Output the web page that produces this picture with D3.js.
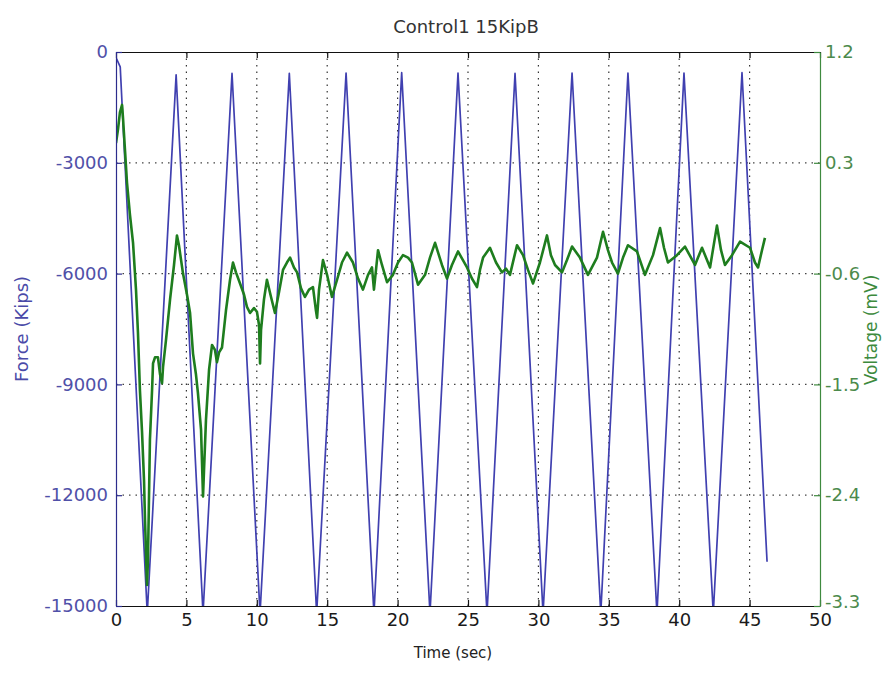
<!DOCTYPE html>
<html>
<head>
<meta charset="utf-8">
<script src="https://cdn.jsdelivr.net/npm/d3@7"></script>
<style>
  html, body { margin: 0; padding: 0; background: #ffffff; }
  svg { display: block; }
  text { font-family: "DejaVu Sans", "Liberation Sans", sans-serif; }
</style>
</head>
<body>
<svg id="chart" width="883" height="677"></svg>
<script>
// ---------------- data ----------------
const chartTitle = "Control1 15KipB";
const xTicks = [0, 5, 10, 15, 20, 25, 30, 35, 40, 45, 50];
const forceTicks = [0, -3000, -6000, -9000, -12000, -15000];
const voltTicks = [1.2, 0.3, -0.6, -1.5, -2.4, -3.3];

// Force (Kips) — turning points of the loading cycles
const forceTime = [0, 0.3, 2.22, 4.27, 6.18, 8.24, 10.23, 12.31, 14.25, 16.34, 18.32, 20.29, 22.3,
  24.29, 26.35, 28.34, 30.33, 32.39, 34.43, 36.36, 38.42, 40.34, 42.42, 44.46, 46.24];
const forceValues = [-150, -400, -15200, -620, -15200, -580, -15200, -580, -15200, -570, -15200, -560, -15200,
  -570, -15200, -580, -15200, -570, -15200, -570, -15200, -570, -15200, -560, -13800];

// Voltage (mV)
const voltTime = [0, 0.14, 0.28, 0.43, 0.5, 0.64, 0.78, 0.99, 1.21, 1.42, 1.56, 1.70, 1.85, 1.99, 2.06, 2.20,
  2.27, 2.41, 2.56, 2.63, 2.77, 2.98, 3.13, 3.27, 3.34, 3.55, 3.84, 4.12, 4.33, 4.47, 4.76, 5.04, 5.26, 5.47,
  5.68, 5.82, 6.04, 6.18, 6.25, 6.39, 6.61, 6.82, 7.03, 7.17, 7.32, 7.53, 7.81, 8.10, 8.31, 8.52, 8.81, 9.09,
  9.30, 9.52, 9.80, 10.01, 10.16, 10.23, 10.30, 10.51, 10.72, 11.01, 11.29, 11.58, 11.86, 12.14, 12.36, 12.64,
  12.86, 13.14, 13.42, 13.71, 13.99, 14.20, 14.28, 14.42, 14.70, 14.99, 15.34, 15.70, 16.05, 16.41, 16.83,
  17.19, 17.54, 17.90, 18.18, 18.32, 18.61, 18.89, 19.25, 19.67, 20.03, 20.38, 20.74, 21.02, 21.45, 21.95,
  22.30, 22.66, 23.15, 23.51, 23.86, 24.29, 24.64, 24.93, 25.28, 25.64, 25.85, 26.07, 26.56, 26.99, 27.41,
  27.70, 27.98, 28.27, 28.48, 28.91, 29.26, 29.62, 30.11, 30.61, 30.89, 31.18, 31.68, 32.03, 32.39, 32.95,
  33.52, 34.16, 34.59, 34.94, 35.23, 35.65, 36.01, 36.36, 37.00, 37.57, 38.14, 38.64, 38.92, 39.20, 39.84,
  40.41, 41.12, 41.62, 42.19, 42.68, 42.97, 43.25, 43.75, 44.32, 45.03, 45.38, 45.60, 45.88, 46.09];
const voltValues = [0.46, 0.57, 0.71, 0.77, 0.66, 0.40, 0.14, -0.12, -0.35, -0.73, -1.08, -1.55, -1.89, -2.28,
  -2.60, -3.13, -2.93, -1.95, -1.55, -1.33, -1.28, -1.28, -1.42, -1.49, -1.36, -1.14, -0.81, -0.53, -0.29,
  -0.37, -0.60, -0.77, -0.92, -1.25, -1.42, -1.57, -1.87, -2.41, -2.20, -1.79, -1.38, -1.18, -1.22, -1.32,
  -1.24, -1.20, -0.90, -0.65, -0.51, -0.59, -0.68, -0.77, -0.87, -0.92, -0.88, -0.91, -1.02, -1.33, -1.06,
  -0.81, -0.65, -0.79, -0.92, -0.75, -0.57, -0.51, -0.47, -0.55, -0.59, -0.72, -0.79, -0.73, -0.71, -0.90,
  -0.96, -0.73, -0.49, -0.61, -0.79, -0.65, -0.51, -0.43, -0.51, -0.64, -0.73, -0.61, -0.55, -0.73, -0.41,
  -0.53, -0.67, -0.61, -0.51, -0.45, -0.47, -0.51, -0.69, -0.61, -0.47, -0.35, -0.53, -0.64, -0.53, -0.42,
  -0.49, -0.55, -0.64, -0.71, -0.57, -0.47, -0.39, -0.51, -0.59, -0.56, -0.61, -0.47, -0.37, -0.45, -0.57,
  -0.68, -0.51, -0.29, -0.45, -0.53, -0.59, -0.49, -0.38, -0.47, -0.61, -0.47, -0.26, -0.41, -0.51, -0.60,
  -0.47, -0.37, -0.42, -0.61, -0.45, -0.23, -0.39, -0.51, -0.45, -0.38, -0.53, -0.39, -0.55, -0.21, -0.41,
  -0.53, -0.45, -0.34, -0.39, -0.51, -0.55, -0.41, -0.31];

// ---------------- layout ----------------
const svg = d3.select("#chart");
const L = 116, R = 820, T = 52, B = 606;

const x = d3.scaleLinear().domain([0, 50]).range([L, R]);
const yF = d3.scaleLinear().domain([-15000, 0]).range([B, T]);
const yV = d3.scaleLinear().domain([-3.3, 1.2]).range([B, T]);

const blue = "#4040b0";
const green = "#1e7d1e";

svg.append("defs").append("clipPath").attr("id", "plotClip")
  .append("rect").attr("x", L).attr("y", T).attr("width", R - L).attr("height", B - T);

// grid
const grid = svg.append("g").attr("class", "grid");
grid.selectAll("line.v").data(xTicks.filter(d => d > 0 && d < 50)).enter().append("line")
  .attr("x1", d => x(d)).attr("x2", d => x(d)).attr("y1", T).attr("y2", B)
  .attr("stroke", "#333").attr("stroke-width", 1.2).attr("stroke-dasharray", "1.5,5");
grid.selectAll("line.h").data(forceTicks.filter(d => d < 0 && d > -15000)).enter().append("line")
  .attr("x1", L).attr("x2", R).attr("y1", d => yF(d)).attr("y2", d => yF(d))
  .attr("stroke", "#444").attr("stroke-width", 1.2).attr("stroke-dasharray", "1.5,5");

// lines
const plot = svg.append("g").attr("clip-path", "url(#plotClip)");
const forceData = forceTime.map((t, i) => [t, forceValues[i]]);
const voltData = voltTime.map((t, i) => [t, voltValues[i]]);

plot.append("path").datum(forceData)
  .attr("fill", "none").attr("stroke", blue).attr("stroke-width", 1.7)
  .attr("stroke-linejoin", "round")
  .attr("d", d3.line().x(d => x(d[0])).y(d => yF(d[1])));

plot.append("path").datum(voltData)
  .attr("fill", "none").attr("stroke", green).attr("stroke-width", 2.6)
  .attr("stroke-linejoin", "round")
  .attr("d", d3.line().x(d => x(d[0])).y(d => yV(d[1])));

// axes
function styleAxis(g, color, textColor, fontSize) {
  g.select(".domain").attr("stroke", color).attr("stroke-width", 1.2);
  g.selectAll(".tick line").attr("stroke", color).attr("stroke-width", 1.2);
  g.selectAll(".tick text").attr("fill", textColor)
    .style("font-size", fontSize + "px").style("font-family", "DejaVu Sans, sans-serif");
}
const hyphenInt = d => String(d);
const hyphenFix1 = d => d.toFixed(1);

const gTop = svg.append("g").attr("transform", `translate(0,${T})`)
  .call(d3.axisTop(x).tickValues(xTicks).tickSize(-6).tickSizeOuter(0).tickFormat(""));
styleAxis(gTop, "#111", "#111", 12);

const gBottom = svg.append("g").attr("transform", `translate(0,${B})`)
  .call(d3.axisBottom(x).tickValues(xTicks).tickSize(-6).tickSizeOuter(0).tickPadding(7).tickFormat(hyphenInt));
styleAxis(gBottom, "#111", "#1a1a1a", 18);

const gLeft = svg.append("g").attr("transform", `translate(${L},0)`)
  .call(d3.axisLeft(yF).tickValues(forceTicks).tickSize(-6).tickSizeOuter(0).tickPadding(8).tickFormat(hyphenInt));
styleAxis(gLeft, "#2c2c8c", "#5050a8", 18);

const gRight = svg.append("g").attr("transform", `translate(${R},0)`)
  .call(d3.axisRight(yV).tickValues(voltTicks).tickSize(-6).tickSizeOuter(0).tickPadding(5).tickFormat(hyphenFix1));
styleAxis(gRight, "#3f8a3f", "#4c8a4c", 18);
gRight.selectAll(".tick text").filter(d => d === -3.3).attr("dy", "0.1em");

// titles
svg.append("text").attr("x", 466).attr("y", 33).attr("text-anchor", "middle")
  .attr("fill", "#333").style("font-size", "18px").text(chartTitle);

svg.append("text").attr("x", 453).attr("y", 658).attr("text-anchor", "middle")
  .attr("fill", "#222").style("font-size", "15px").text("Time (sec)");

svg.append("text").attr("transform", `translate(28,${(T + B) / 2}) rotate(-90)`)
  .attr("text-anchor", "middle").attr("fill", "#4a4aa8").style("font-size", "18px").text("Force (Kips)");

svg.append("text").attr("transform", `translate(877,330) rotate(-90)`)
  .attr("text-anchor", "middle").attr("fill", "#3d8a3d").style("font-size", "17px").text("Voltage (mV)");
</script>
</body>
</html>
